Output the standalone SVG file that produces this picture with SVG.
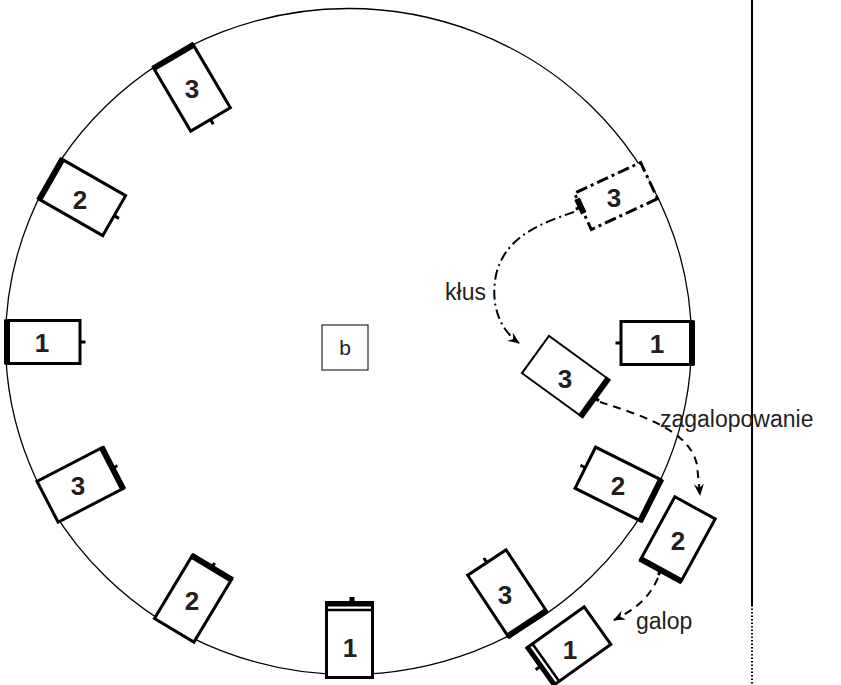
<svg xmlns="http://www.w3.org/2000/svg" width="841" height="685" viewBox="0 0 841 685">
<style>
.box{fill:#fff;stroke:#000;stroke-width:3}
.thick{stroke:#000;stroke-width:6}
.tick{stroke:#000;stroke-width:3}
.num{font-family:"Liberation Sans",Arial,sans-serif;font-weight:bold;font-size:26px;fill:#231f20;text-anchor:middle}
.lbl{font-family:"Liberation Sans",Arial,sans-serif;font-size:23px;fill:#231f20}
.con{fill:none;stroke:#000;stroke-width:2}
</style>
<defs>
<marker id="ah" viewBox="0 0 12 10" refX="11" refY="5" markerWidth="12" markerHeight="10" markerUnits="userSpaceOnUse" orient="auto">
<path d="M0,0 L12,5 L0,10 L4,5 z" fill="#000"/>
</marker>
</defs>
<rect width="841" height="685" fill="#fff"/>
<ellipse id="ring" cx="348.5" cy="341.5" rx="343" ry="333" fill="none" stroke="#000" stroke-width="1.3"/>
<line x1="752" y1="0" x2="752" y2="605" stroke="#000" stroke-width="2"/>
<line x1="752" y1="605" x2="752" y2="685" stroke="#000" stroke-width="2" stroke-dasharray="1.5 2"/>

<g id="center-b">
<rect x="322" y="325" width="46" height="45" fill="#fff" stroke="#000" stroke-width="1"/>
<text x="345" y="355" text-anchor="middle" class="lbl" style="font-size:21px">b</text>
</g>

<g id="connectors">
<path class="con" stroke-dasharray="10 4 2 4" d="M574 212 C545 222,505 235,496 275 C490 305,500 330,519 343" marker-end="url(#ah)"/>
<path class="con" stroke-dasharray="8 6" d="M600 402 C640 415,690 430,697 465 L700 495" marker-end="url(#ah)"/>
<path class="con" stroke-dasharray="8 6" d="M658 578 C650 595,640 607,614 620" marker-end="url(#ah)"/>
</g>

<g id="box-top3" transform="translate(192 88) rotate(239.5)">
<rect class="box" x="-36.5" y="-23" width="73" height="46"/>
<line class="thick" x1="36.5" y1="-24" x2="36.5" y2="24"/>
<line class="tick" x1="-36.5" y1="0" x2="-42" y2="0"/>
</g>
<text class="num" x="192" y="98">3</text>

<g id="box-ul2" transform="translate(82.5 197.5) rotate(209.8)">
<rect class="box" x="-36.5" y="-23" width="73" height="46"/>
<line class="thick" x1="36.5" y1="-24" x2="36.5" y2="24"/>
<line class="tick" x1="-36.5" y1="0" x2="-42" y2="0"/>
</g>
<text class="num" x="80" y="209">2</text>

<g id="box-l1" transform="translate(43.5 342) rotate(180)">
<rect class="box" x="-36.5" y="-21.5" width="73" height="43"/>
<line class="thick" x1="36.5" y1="-22.5" x2="36.5" y2="22.5"/>
<line class="tick" x1="-36.5" y1="0" x2="-42" y2="0"/>
</g>
<text class="num" x="42" y="352">1</text>

<g id="box-ll3" transform="translate(80 485) rotate(332.7)">
<rect class="box" x="-36.5" y="-23" width="73" height="46"/>
<line class="thick" x1="36.5" y1="-24" x2="36.5" y2="24"/>
<line class="tick" x1="36.5" y1="0" x2="42" y2="0"/>
</g>
<text class="num" x="78" y="495">3</text>

<g id="box-ll2" transform="translate(193 599) rotate(301)">
<rect class="box" x="-36.5" y="-23" width="73" height="46"/>
<line class="thick" x1="36.5" y1="-24" x2="36.5" y2="24"/>
<line class="tick" x1="36.5" y1="0" x2="42" y2="0"/>
</g>
<text class="num" x="192" y="610">2</text>

<g id="box-b1" transform="translate(349.5 640) rotate(270)">
<rect class="box" x="-37.5" y="-23" width="75" height="46"/>
<line class="thick" x1="36" y1="-24" x2="36" y2="24" style="stroke-width:5"/>
<line x1="30" y1="-23" x2="30" y2="23" stroke="#000" stroke-width="2.5"/>
<line class="tick" x1="36.5" y1="2.5" x2="43" y2="2.5" style="stroke-width:5"/>
</g>
<text class="num" x="350" y="657">1</text>

<g id="box-br3" transform="translate(507 593) rotate(56.5)">
<rect class="box" x="-36.5" y="-23" width="73" height="46"/>
<line class="thick" x1="36.5" y1="-24" x2="36.5" y2="24"/>
<line class="tick" x1="-36.5" y1="0" x2="-42" y2="0"/>
</g>
<text class="num" x="505" y="604">3</text>

<g id="box-r2" transform="translate(618 484) rotate(26.5)">
<rect class="box" x="-36.5" y="-23" width="73" height="46"/>
<line class="thick" x1="36.5" y1="-24" x2="36.5" y2="24"/>
<line class="tick" x1="-36.5" y1="0" x2="-42" y2="0"/>
</g>
<text class="num" x="618" y="495">2</text>

<g id="box-r1" transform="translate(656.5 343) rotate(0)">
<rect class="box" x="-35.5" y="-21.5" width="71" height="43"/>
<line class="thick" x1="35.5" y1="-22.5" x2="35.5" y2="22.5"/>
<line class="tick" x1="-35.5" y1="0" x2="-41" y2="0"/>
</g>
<text class="num" x="657" y="353">1</text>

<g id="box-d3" transform="translate(616 196) rotate(155)">
<rect class="box" x="-36.5" y="-20" width="73" height="40" stroke-dasharray="12 4 3 4"/>
<line class="thick" x1="36.5" y1="-2" x2="36.5" y2="14"/>
<line class="tick" x1="36.5" y1="5" x2="42" y2="5"/>
</g>
<text class="num" x="614" y="207">3</text>

<g id="box-m3" transform="translate(565 376) rotate(36)">
<rect class="box" x="-36.5" y="-23" width="73" height="46" style="stroke-width:2"/>
<line class="thick" x1="36.5" y1="-24" x2="36.5" y2="24"/>
<line class="tick" x1="36.5" y1="0" x2="42" y2="0"/>
</g>
<text class="num" x="565" y="388">3</text>

<g id="box-o2" transform="translate(678 539) rotate(118.7)">
<rect class="box" x="-35.5" y="-23" width="71" height="46"/>
<line class="thick" x1="35.5" y1="-24" x2="35.5" y2="24"/>
<line class="tick" x1="35.5" y1="0" x2="41" y2="0"/>
</g>
<text class="num" x="678" y="550">2</text>

<g id="box-o1" transform="translate(569 646) rotate(144.5)">
<rect class="box" x="-35" y="-23" width="70" height="46"/>
<line class="thick" x1="34.5" y1="-24" x2="34.5" y2="24" style="stroke-width:5"/>
<line x1="28.5" y1="-23" x2="28.5" y2="23" stroke="#000" stroke-width="2.5"/>
<line class="tick" x1="35" y1="0" x2="41" y2="0"/>
</g>
<text class="num" x="570" y="659">1</text>

<text class="lbl" x="486" y="300" text-anchor="end">kłus</text>
<text class="lbl" x="660" y="427">zagalopowanie</text>
<text class="lbl" x="636" y="629">galop</text>
</svg>
